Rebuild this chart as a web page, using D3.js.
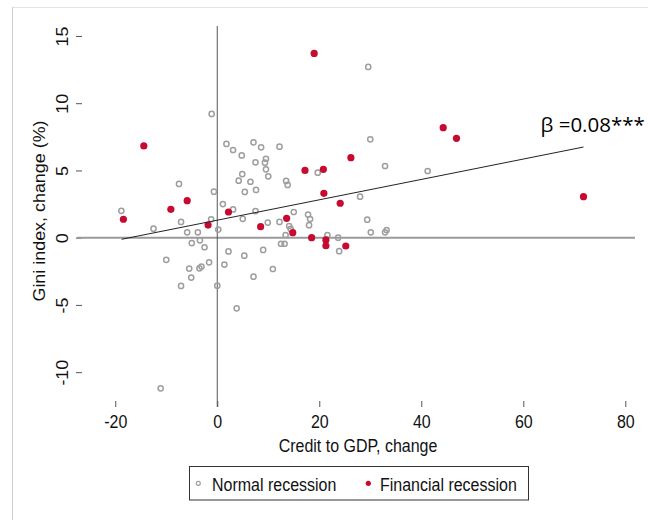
<!DOCTYPE html>
<html>
<head>
<meta charset="utf-8">
<script src="https://cdn.jsdelivr.net/npm/d3@7"></script>
<style>
  body { margin: 0; background: #fff; }
  svg { display: block; font-family: "Liberation Sans", Arial, sans-serif; }
</style>
</head>
<body>
<svg id="chart"></svg>
<script>
// normal recessions (grey hollow circles)
const normal_x = [-18.8, -12.5, -11.1, -10.0, -7.5, -7.1, -7.1, -5.9, -5.0, -5.5, -5.1, -3.8, -3.4, -2.5, -3.5,
    -3.1, -1.6, -1.2, -1.1, -0.65, 0.0, 0.2, 1.1, 1.4, 1.8, 2.2, 3.1, 3.1, 3.8, 4.2, 4.8, 4.9, 5.0, 5.3, 5.4,
    6.5, 7.1, 7.1, 7.5, 7.5, 7.6, 8.6, 9.0, 9.35, 9.55, 9.55, 9.9, 10.0, 10.9, 12.2, 12.2, 12.5, 13.2, 13.4,
    13.5, 13.8, 14.1, 14.4, 15.0, 17.8, 18.2, 18.0, 19.7, 21.6, 23.7, 23.9, 28.0, 29.4, 29.6, 30.0, 30.1,
    32.9, 32.9, 33.2, 41.25];
const normal_y = [2.0, 0.67, -11.2, -1.65, 4.0, 1.17, -3.59, 0.4, -0.4, -2.3, -2.97, 0.4, -0.2, -0.71, -2.28,
    -2.15, -1.83, 1.37, 9.2, 3.42, -3.57, 0.6, 2.5, -2.0, 6.97, -1.02, 2.1, 6.52, -5.25, 4.24, 6.12, 4.73, 1.4, -1.34, 3.4,
    4.16, 7.09, -2.9, 5.6, 1.98, 3.55, 6.72, -0.91, 5.58, 5.87, 5.08, 1.12, 4.56, -2.33, 6.77, 1.17, -0.45, -0.45, 0.2,
    4.22, 3.92, 0.87, 0.65, 1.91, 1.72, 1.39, 0.93, 4.83, 0.2, 0.0, -1.0, 3.05, 1.34, 12.7, 7.31, 0.4,
    5.33, 0.4, 0.57, 4.96];

// financial recessions (red dots)
const financial_x = [-18.4, -14.4, -9.1, -5.9, -1.8, 2.2, 8.5, 13.6, 14.8, 17.2, 18.5, 19.0, 20.8, 20.9,
    21.3, 21.3, 24.1, 25.2, 26.2, 44.3, 46.9, 71.8];
const financial_y = [1.37, 6.82, 2.11, 2.75, 0.94, 1.91, 0.82, 1.44, 0.37, 5.0, 0.0, 13.7, 5.08, 3.3,
    -0.17, -0.6, 2.56, -0.62, 5.95, 8.18, 7.39, 3.05];

// fitted line end points
const fit_x = [-18.75, 71.8];
const fit_y = [-0.12, 6.74];

const x_ticks = [-20, 0, 20, 40, 60, 80];
const y_ticks = [-10, -5, 0, 5, 10, 15];
const x_domain = [-27.5, 81.9];
const y_domain = [-12.59, 15.74];

const xlabel = 'Credit to GDP, change';
const ylabel = 'Gini index, change (%)';
const beta_label = 'β =0.08***';
const legend_labels = ['Normal recession', 'Financial recession'];

class ScatterChart {

    constructor( config ) {
        this.config = {
            parent: config.parent,
            width: config.width || 648,
            height: config.height || 520,
            left: 77, right: 635, top: 26, bottom: 407,
            stretch: 1.12
        }
        this.init();
    }

    init() {
        let self = this;
        self.svg = d3.select( self.config.parent )
            .attr('width', self.config.width)
            .attr('height', self.config.height);

        self.normal = normal_x.map((d, i) => ({x: d, y: normal_y[i]}));
        self.financial = financial_x.map((d, i) => ({x: d, y: financial_y[i]}));
        self.fit = fit_x.map((d, i) => ({x: d, y: fit_y[i]}));
    }

    update() {
        let self = this;

        self.xscale = d3.scaleLinear()
            .domain(x_domain)
            .range([self.config.left, self.config.right]);

        self.yscale = d3.scaleLinear()
            .domain(y_domain)
            .range([self.config.bottom, self.config.top]);

        // plain hyphen for negatives, like the original
        self.xaxis = d3.axisBottom( self.xscale )
            .tickValues(x_ticks)
            .tickFormat(d => String(d))
            .tickSizeInner(6)
            .tickSizeOuter(0);

        self.yaxis = d3.axisLeft( self.yscale )
            .tickValues(y_ticks)
            .tickFormat(d => String(d))
            .tickSizeInner(6)
            .tickSizeOuter(0);

        self.render();
    }

    render() {
        let self = this;
        const s = self.config.stretch;

        // light picture frame
        self.svg.append('line')
            .attr('x1', 12).attr('x2', self.config.width)
            .attr('y1', 7.5).attr('y2', 7.5)
            .attr('stroke', '#e3e3e3');
        self.svg.append('line')
            .attr('x1', 12.5).attr('x2', 12.5)
            .attr('y1', 7).attr('y2', self.config.height)
            .attr('stroke', '#cfcfcf');

        // x axis
        const xg = self.svg.append('g')
            .attr('transform', `translate(0, ${self.config.bottom - 6})`)
            .call( self.xaxis );
        xg.select('.domain').remove();
        xg.selectAll('line').attr('stroke', '#555');
        xg.selectAll('text')
            .attr('y', 0).attr('dy', 0)
            .attr('transform', `translate(0, 27) scale(1, ${s})`)
            .attr('fill', '#111')
            .style('font-size', '16px')
            .style('font-family', '"Liberation Sans", Arial, sans-serif');

        // y axis
        const yg = self.svg.append('g')
            .attr('transform', `translate(${self.config.left + 5}, 0)`)
            .call( self.yaxis );
        yg.select('.domain').remove();
        yg.selectAll('line').attr('stroke', '#555');
        yg.selectAll('text')
            .attr('x', 0).attr('dy', 0)
            .attr('text-anchor', 'middle')
            .attr('transform', `translate(-14, 0) rotate(-90) scale(${s}, 1)`)
            .attr('fill', '#111')
            .style('font-size', '16px')
            .style('font-family', '"Liberation Sans", Arial, sans-serif');

        // axis titles
        self.svg.append('text')
            .style('font-size', '16px')
            .attr('fill', '#111')
            .attr('text-anchor', 'middle')
            .attr('transform', `translate(358, 451.5) scale(1, ${s})`)
            .text( xlabel );

        self.svg.append('text')
            .style('font-size', '16px')
            .attr('fill', '#111')
            .attr('text-anchor', 'middle')
            .attr('transform', `translate(44.5, 211) rotate(-90) scale(${s}, 1)`)
            .text( ylabel );

        // reference lines at zero
        self.svg.append('line')
            .attr('x1', self.config.left).attr('x2', self.config.right)
            .attr('y1', self.yscale(0)).attr('y2', self.yscale(0))
            .attr('stroke', '#9a9a9a')
            .attr('stroke-width', 2);

        self.svg.append('line')
            .attr('x1', self.xscale(0)).attr('x2', self.xscale(0))
            .attr('y1', self.config.top).attr('y2', self.config.bottom)
            .attr('stroke', '#555')
            .attr('stroke-width', 1);

        // points
        self.svg.append('g').selectAll('circle')
            .data(self.normal)
            .join('circle')
            .attr('cx', d => self.xscale(d.x))
            .attr('cy', d => self.yscale(d.y))
            .attr('r', 2.6)
            .attr('fill', 'none')
            .attr('stroke', '#9e9e9e')
            .attr('stroke-width', 1.5);

        self.svg.append('g').selectAll('circle')
            .data(self.financial)
            .join('circle')
            .attr('cx', d => self.xscale(d.x))
            .attr('cy', d => self.yscale(d.y))
            .attr('r', 3.6)
            .attr('fill', '#c60a30');

        // fitted line
        self.svg.append('path')
            .attr('d', d3.line().x(d => self.xscale(d.x)).y(d => self.yscale(d.y))(self.fit))
            .attr('stroke', '#222')
            .attr('stroke-width', 1)
            .attr('fill', 'none');

        self.svg.append('text')
            .style('font-family', '"Open Sans", sans-serif')
            .style('font-size', '20.5px')
            .attr('fill', '#000')
            .attr('x', 540.5)
            .attr('y', 131.7)
            .text( beta_label );

        // legend
        self.svg.append('rect')
            .attr('x', 189.5).attr('y', 466.5)
            .attr('width', 339).attr('height', 33.5)
            .attr('fill', '#fff')
            .attr('stroke', '#333')
            .attr('stroke-width', 1);

        self.svg.append('circle')
            .attr('cx', 198.3).attr('cy', 483.3)
            .attr('r', 2)
            .attr('fill', 'none')
            .attr('stroke', '#9e9e9e')
            .attr('stroke-width', 1.2);
        self.svg.append('text')
            .style('font-size', '16px')
            .attr('fill', '#111')
            .attr('transform', `translate(212, 491) scale(1, ${s})`)
            .text( legend_labels[0] );

        self.svg.append('circle')
            .attr('cx', 368.3).attr('cy', 483.3)
            .attr('r', 2.6)
            .attr('fill', '#c60a30');
        self.svg.append('text')
            .style('font-size', '16px')
            .attr('fill', '#111')
            .attr('transform', `translate(380, 491) scale(1, ${s})`)
            .text( legend_labels[1] );
    }
}

const chart = new ScatterChart({ parent: '#chart', width: 648, height: 520 });
chart.update();
</script>
</body>
</html>
